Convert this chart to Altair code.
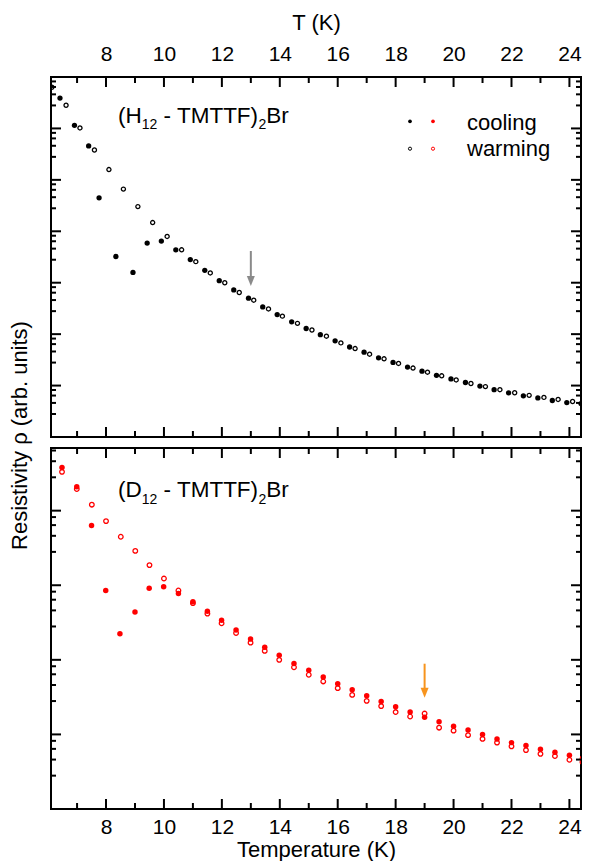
import altair as alt
import pandas as pd

FONT = "Liberation Sans"
W, H1, H2 = 530, 360, 361
X_DOMAIN = [6.1, 24.4]
TOP_DOMAIN = [1, 1e7]
BOT_DOMAIN = [1, 10 ** 4.84]

# ---------------- data (T in K, log10 of resistivity in arb. units) ----------------
h_cool_T = [6.41, 6.91, 7.40, 7.76, 8.34, 8.93, 9.42, 9.91, 10.41, 10.91, 11.41, 11.91, 12.41, 12.92,
            13.41, 13.91, 14.41, 14.91, 15.40, 15.91, 16.41, 16.91, 17.41, 17.91, 18.41, 18.91, 19.41,
            19.91, 20.41, 20.91, 21.40, 21.90, 22.41, 22.91, 23.41, 23.91, 24.40]
h_cool_lg = [6.59, 6.06, 5.66, 4.65, 3.51, 3.20, 3.77, 3.81, 3.64, 3.45, 3.24, 3.04, 2.86, 2.70,
             2.53, 2.38, 2.24, 2.11, 1.99, 1.87, 1.75, 1.65, 1.54, 1.45, 1.36, 1.28, 1.20,
             1.13, 1.06, 0.99, 0.92, 0.86, 0.80, 0.76, 0.71, 0.67, 0.65]
h_warm_T = [6.13, 6.62, 7.10, 7.60, 8.10, 8.60, 9.10, 9.61, 10.11, 10.61, 11.10, 11.60, 12.10, 12.60,
            13.10, 13.61, 14.09, 14.61, 15.11, 15.61, 16.11, 16.60, 17.10, 17.60, 18.10, 18.60, 19.10,
            19.59, 20.09, 20.60, 21.10, 21.60, 22.11, 22.61, 23.12, 23.61, 24.11]
h_warm_lg = [6.80, 6.45, 6.01, 5.58, 5.20, 4.82, 4.48, 4.17, 3.90, 3.64, 3.41, 3.19, 3.00, 2.81,
             2.66, 2.49, 2.35, 2.21, 2.08, 1.96, 1.83, 1.72, 1.61, 1.52, 1.43, 1.34, 1.26,
             1.19, 1.11, 1.04, 0.98, 0.92, 0.86, 0.81, 0.77, 0.73, 0.69]

d_cool_T = [6.48, 6.99, 7.50, 7.99, 8.48, 9.00, 9.49, 9.99, 10.50, 11.00, 11.50, 11.99, 12.49, 12.99,
            13.48, 13.98, 14.49, 15.00, 15.50, 16.00, 16.50, 17.00, 17.50, 18.00, 18.50, 19.00, 19.50,
            20.00, 20.50, 21.00, 21.50, 22.00, 22.50, 23.00, 23.50, 24.00, 24.45]
d_cool_lg = [4.58, 4.32, 3.80, 2.93, 2.35, 2.64, 2.96, 2.98, 2.89, 2.78, 2.65, 2.53, 2.40, 2.28,
             2.17, 2.06, 1.95, 1.86, 1.77, 1.68, 1.60, 1.52, 1.44, 1.37, 1.30, 1.23, 1.17,
             1.11, 1.06, 1.00, 0.94, 0.89, 0.85, 0.80, 0.76, 0.72, 0.68]
d_warm_T = [6.48, 6.99, 7.51, 8.00, 8.51, 9.01, 9.50, 10.00, 10.50, 11.00, 11.50, 11.99, 12.49, 12.99,
            13.48, 13.98, 14.49, 15.00, 15.50, 16.00, 16.50, 17.00, 17.50, 18.00, 18.50, 19.00, 19.50,
            20.00, 20.50, 21.00, 21.50, 22.00, 22.50, 23.00, 23.50, 24.00, 24.45]
d_warm_lg = [4.52, 4.29, 4.08, 3.86, 3.65, 3.46, 3.27, 3.09, 2.93, 2.76, 2.62, 2.49, 2.36, 2.23,
             2.12, 2.00, 1.90, 1.80, 1.71, 1.62, 1.53, 1.45, 1.38, 1.30, 1.24, 1.28, 1.09,
             1.05, 0.99, 0.94, 0.89, 0.84, 0.79, 0.74, 0.71, 0.66, 0.63]

# arrows: T, log10 of shaft start, shaft end, head centre
top_arrow = [13.0, 3.617, 3.11, 3.033]
bot_arrow = [19.0, 1.948, 1.613, 1.559]

major_x = [8, 10, 12, 14, 16, 18, 20, 22, 24]
minor_x = [7, 9, 11, 13, 15, 17, 19, 21, 23]
minor_factors = [2.8, 4.6, 6.4, 8.2]

legend_labels = ["cooling", "warming"]
compounds = ["H", "D"]


def to_df(T, lg):
    return pd.DataFrame({"T": T, "rho": [10 ** v for v in lg]})


def y_ticks(dom):
    lo, hi = dom
    major = [10 ** k for k in range(0, 8) if lo <= 10 ** k <= hi * 1.0001]
    minor = [m * 10 ** k for k in range(0, 8) for m in minor_factors if lo <= m * 10 ** k <= hi]
    return pd.DataFrame({"v": major}), pd.DataFrame({"v": minor})


def panel(cool, warm, ydom, H, color, fsize, osize, xaxis, arrow, arrow_color, letter, base, legend):
    xs = alt.Scale(domain=X_DOMAIN, nice=False, zero=False)
    ys = alt.Scale(type="log", domain=ydom, nice=False)

    def X(f):
        return alt.X(f, type="quantitative", scale=xs, axis=xaxis)

    def Y(f):
        return alt.Y(f, type="quantitative", scale=ys, axis=None)

    layers = []
    layers.append(alt.Chart(to_df(*cool)).mark_point(filled=True, shape="circle", size=fsize,
                                                        color=color, opacity=1, clip=True)
                  .encode(x=X("T"), y=Y("rho")))
    layers.append(alt.Chart(to_df(*warm)).mark_point(filled=False, shape="circle", size=osize,
                                                        strokeWidth=1.3, color=color, opacity=1, clip=True)
                  .encode(x=X("T"), y=Y("rho")))

    # ticks (inward)
    ymaj, ymin = y_ticks(ydom)
    for df, L in ((ymaj, 10), (ymin, 5)):
        layers.append(alt.Chart(df).mark_rule(color="black", strokeWidth=2)
                      .encode(y=Y("v"), x=alt.value(0), x2=alt.value(L)))
        layers.append(alt.Chart(df).mark_rule(color="black", strokeWidth=2)
                      .encode(y=Y("v"), x=alt.value(W), x2=alt.value(W - L)))
    for vals, L in ((major_x, 10), (minor_x, 6)):
        df = pd.DataFrame({"v": vals})
        layers.append(alt.Chart(df).mark_rule(color="black", strokeWidth=2)
                      .encode(x=X("v"), y=alt.value(0), y2=alt.value(L)))
        layers.append(alt.Chart(df).mark_rule(color="black", strokeWidth=2)
                      .encode(x=X("v"), y=alt.value(H), y2=alt.value(H - L)))

    # arrow
    adf = pd.DataFrame({"T": [arrow[0]], "y1": [10 ** arrow[1]], "y2": [10 ** arrow[2]],
                        "yh": [10 ** arrow[3]]})
    layers.append(alt.Chart(adf).mark_rule(color=arrow_color, strokeWidth=2)
                  .encode(x=X("T"), y=Y("y1"), y2=alt.Y2("y2")))
    layers.append(alt.Chart(adf).mark_point(shape="M-0.8,-1L0.8,-1L0,1Z", size=100, filled=True,
                                            color=arrow_color, opacity=1)
                  .encode(x=X("T"), y=Y("yh")))

    # compound label with subscripts
    F, f = 22.5, 14
    x0 = 67
    pieces = [
        ("(" + letter, x0, base, F),
        ("12", x0 + 1.055 * F, base + 6.6, f),
        ("- TMTTF)", x0 + 1.055 * F + 1.112 * f + 0.278 * F, base, F),
        ("2", x0 + 1.055 * F + 1.112 * f + 4.499 * F, base + 6.6, f),
        ("Br", x0 + 1.055 * F + 1.112 * f + 4.499 * F + 0.556 * f, base, F),
    ]
    for txt, px, py, fs in pieces:
        layers.append(alt.Chart(pd.DataFrame({"t": [txt]})).mark_text(
            align="left", baseline="alphabetic", font=FONT, fontSize=fs, color="black")
            .encode(text="t:N", x=alt.value(px), y=alt.value(py)))

    if legend:
        rows = [(44.3, 53), (71.7, 79)]
        for i, lab in enumerate(legend_labels):
            my, ty = rows[i]
            filled = (i == 0)
            for cx, c in ((359, "black"), (382, "red")):
                if filled:
                    mk = alt.Chart(pd.DataFrame({"a": [0]})).mark_point(
                        filled=True, shape="circle", size=14, color=c, opacity=1)
                else:
                    mk = alt.Chart(pd.DataFrame({"a": [0]})).mark_point(
                        filled=False, shape="circle", size=10, strokeWidth=1, color=c, opacity=1)
                layers.append(mk.encode(x=alt.value(cx), y=alt.value(my)))
            layers.append(alt.Chart(pd.DataFrame({"t": [lab]})).mark_text(
                align="left", baseline="alphabetic", font=FONT, fontSize=22, color="black")
                .encode(text="t:N", x=alt.value(416), y=alt.value(ty)))

    return alt.layer(*layers).properties(width=W, height=H)


top_axis = alt.Axis(orient="top", values=major_x, title="T (K)", domain=False, ticks=False, grid=False,
                    labelFontSize=21, titleFontSize=22, titleFontWeight="normal", labelPadding=13,
                    titlePadding=9, labelFlush=False, labelFont=FONT, titleFont=FONT,
                    labelColor="black", titleColor="black")
bot_axis = alt.Axis(orient="bottom", values=major_x, title="Temperature (K)", domain=False, ticks=False,
                    grid=False, labelFontSize=21, titleFontSize=22, titleFontWeight="normal",
                    labelPadding=7, titlePadding=2, labelFlush=False, labelFont=FONT, titleFont=FONT,
                    labelColor="black", titleColor="black")

top = panel((h_cool_T, h_cool_lg), (h_warm_T, h_warm_lg), TOP_DOMAIN, H1, "black", 28, 17,
            top_axis, top_arrow, "#8a8a8a", compounds[0], 45.7, True)
bot = panel((d_cool_T, d_cool_lg), (d_warm_T, d_warm_lg), BOT_DOMAIN, H2, "red", 30, 21,
            bot_axis, bot_arrow, "#f7941d", compounds[1], 49.4, False)

chart = alt.vconcat(top, bot, spacing=7).properties(
    title=alt.TitleParams("Resistivity ρ (arb. units)", orient="left", anchor="middle", font=FONT,
                          fontSize=22, fontWeight="normal", color="black", offset=17),
    padding={"left": 0, "top": 2, "right": 0, "bottom": 0},
).configure_view(stroke="black", strokeWidth=2)

chart.save("out.html", embed_options={"renderer": "svg", "actions": False})
